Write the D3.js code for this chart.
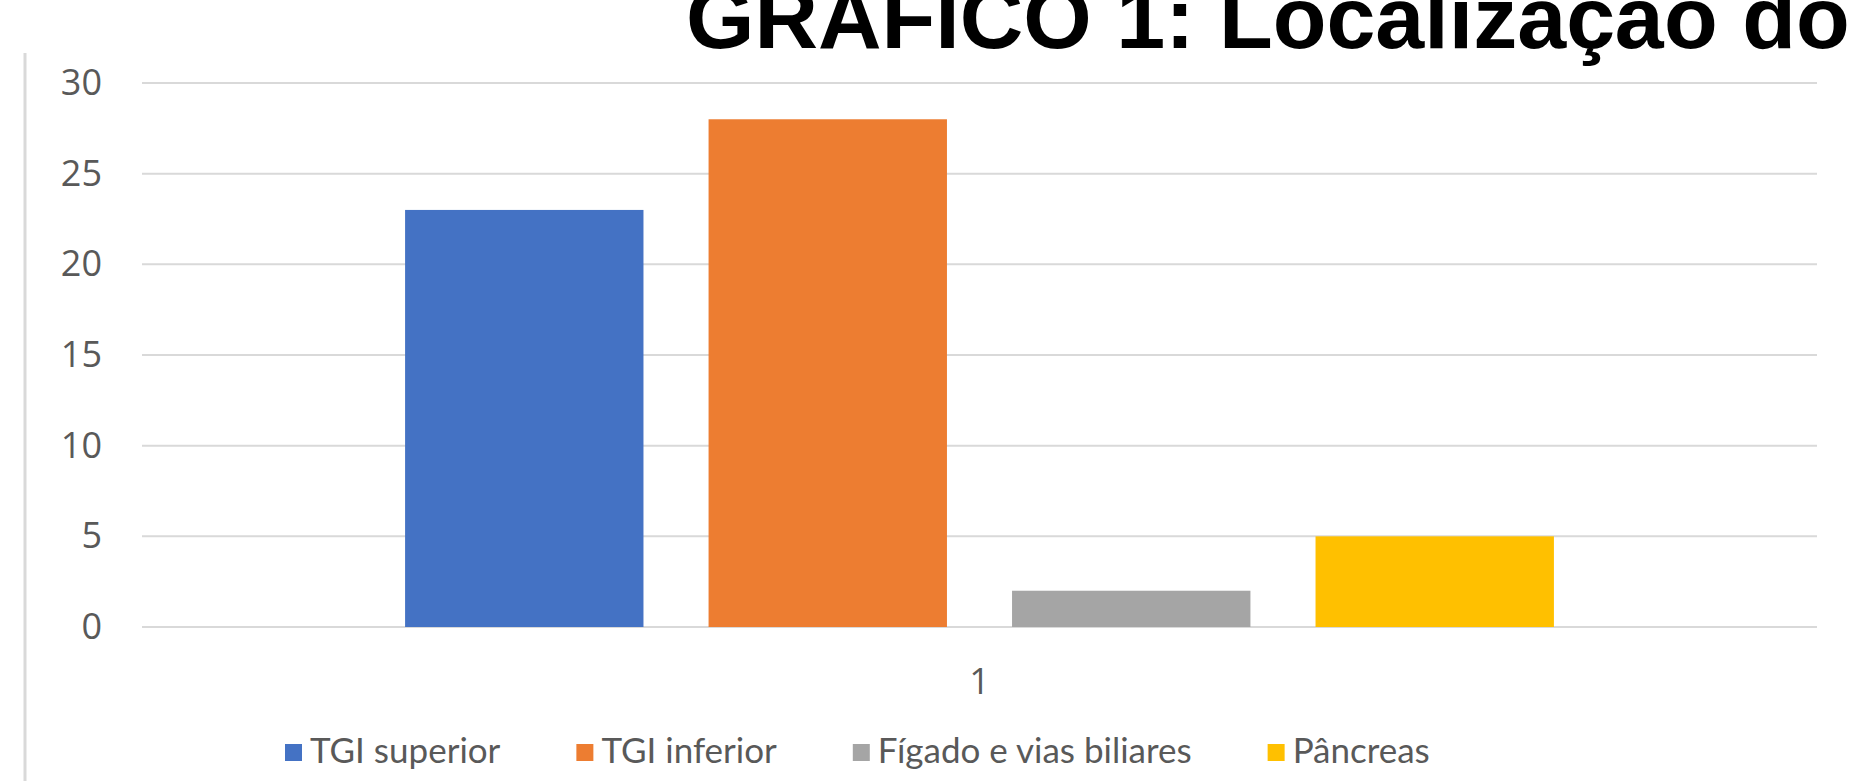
<!DOCTYPE html>
<html>
<head>
<meta charset="utf-8">
<script src="https://cdn.jsdelivr.net/npm/d3@7"></script>
<style>
  body { margin: 0; background: #fff; overflow: hidden; }
</style>
</head>
<body>
<div id="chart"></div>
<script>
// data
const categories = ["1"];
const seriesNames = ["TGI superior", "TGI inferior", "Fígado e vias biliares", "Pâncreas"];
const seriesValues = [23, 28, 2, 5];
const seriesColors = ["#4472C4", "#ED7D31", "#A5A5A5", "#FFC000"];
const yTicks = [0, 5, 10, 15, 20, 25, 30];
const titleText = "GRÁFICO 1: Localização do";

const width = 1854, height = 781;
const margin = {top: 83, right: 37, bottom: 154, left: 142};

const svg = d3.select('#chart').append('svg')
  .attr('width', width)
  .attr('height', height);

// title, cut off at the top like in the picture
svg.append('text')
  .attr('x', 686)
  .attr('y', 48)
  .attr('font-family', 'Liberation Sans, Arial, sans-serif')
  .attr('font-weight', 'bold')
  .attr('font-size', 88)
  .attr('fill', '#000')
  .text(titleText);

// left border of the chart frame
svg.append('line')
  .attr('x1', 25).attr('x2', 25)
  .attr('y1', 53).attr('y2', height)
  .attr('stroke', '#d9d9d9')
  .attr('stroke-width', 3);

const plotW = width - margin.left - margin.right;
const plotH = height - margin.top - margin.bottom;

const g = svg.append('g')
  .attr('transform', `translate(${margin.left},${margin.top})`);

const x0 = d3.scaleBand().domain(categories).range([0, plotW]).paddingOuter(0.229).paddingInner(0);
const x1 = d3.scaleBand().domain(seriesNames).range([0, x0.bandwidth()]).paddingInner(0.2145).paddingOuter(0);
const y = d3.scaleLinear().domain([0, 30]).range([plotH, 0]);

// gridlines
g.selectAll('.grid')
  .data(yTicks)
  .join('line')
  .attr('class', 'grid')
  .attr('x1', 0).attr('x2', plotW)
  .attr('y1', d => y(d)).attr('y2', d => y(d))
  .attr('stroke', '#d9d9d9')
  .attr('stroke-width', 2);

// y axis labels
const yAxis = g.append('g')
  .call(d3.axisLeft(y).tickValues(yTicks).tickSize(0).tickPadding(40));
yAxis.select('.domain').remove();
yAxis.selectAll('text')
  .attr('font-family', 'Open Sans, sans-serif')
  .attr('font-size', 36)
  .attr('fill', '#595959');

// bars
const groups = g.selectAll('.grp')
  .data(categories)
  .join('g')
  .attr('class', 'grp')
  .attr('transform', d => `translate(${x0(d)},0)`);

groups.selectAll('rect')
  .data(seriesNames.map((s, i) => ({name: s, value: seriesValues[i], color: seriesColors[i]})))
  .join('rect')
  .attr('x', d => x1(d.name))
  .attr('width', x1.bandwidth())
  .attr('y', d => y(d.value))
  .attr('height', d => plotH - y(d.value))
  .attr('fill', d => d.color);

// x axis label
const xAxis = g.append('g')
  .attr('transform', `translate(0,${plotH})`)
  .call(d3.axisBottom(x0).tickSize(0).tickPadding(41));
xAxis.select('.domain').remove();
xAxis.selectAll('text')
  .attr('font-family', 'Open Sans, sans-serif')
  .attr('font-size', 36)
  .attr('fill', '#595959');

// legend
const legend = svg.append('g').attr('transform', 'translate(285,763)');
let lx = 0;
seriesNames.forEach((name, i) => {
  const item = legend.append('g').attr('transform', `translate(${lx},0)`);
  item.append('rect')
    .attr('x', 0).attr('y', -19)
    .attr('width', 17).attr('height', 17)
    .attr('fill', seriesColors[i]);
  const t = item.append('text')
    .attr('x', 25).attr('y', 0)
    .attr('font-family', 'Lato, sans-serif')
    .attr('font-size', 35)
    .attr('fill', '#595959')
    .text(name);
  lx += 25 + t.node().getComputedTextLength() + 76;
});
</script>
</body>
</html>
